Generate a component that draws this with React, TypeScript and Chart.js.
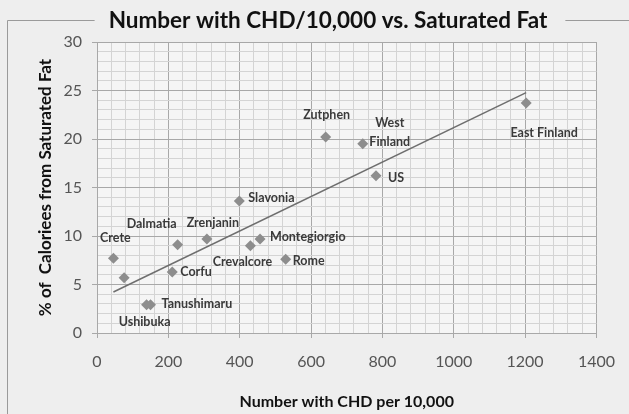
import React, { useEffect, useRef } from "react";
import { Chart, registerables } from "chart.js";

Chart.register(...registerables);

// ---- data ----
const places = [
  "Crete", "", "Ushibuka", "Tanushimaru", "Corfu", "Dalmatia", "Zrenjanin",
  "Slavonia", "Crevalcore", "Montegiorgio", "Rome", "Zutphen", "West Finland",
  "US", "East Finland",
];
const chdPer10000 = [46, 76, 139, 150, 211, 226, 308, 399, 430, 457, 529, 641, 745, 782, 1203];
const satFatPct = [7.7, 5.7, 2.9, 2.9, 6.3, 9.1, 9.7, 13.6, 9.0, 9.7, 7.6, 20.2, 19.5, 16.2, 23.7];
const xTickLabels = [0, 200, 400, 600, 800, 1000, 1200, 1400];
const yTickLabels = [0, 5, 10, 15, 20, 25, 30];

const chartTitle = "Number with CHD/10,000 vs. Saturated Fat";
const xTitle = "Number with CHD per 10,000";
const yTitle = "% of  Caloriees from Saturated Fat";

// label placement (style only)
const labelStyle: Record<string, { dx: number; dy: number; align: CanvasTextAlign; lines?: string[]; lh?: number }> = {
  Crete: { dx: 2, dy: -20, align: "center" },
  Ushibuka: { dx: -2, dy: 17, align: "center" },
  Tanushimaru: { dx: 11, dy: -1, align: "left" },
  Corfu: { dx: 8, dy: 0, align: "left" },
  Dalmatia: { dx: -26, dy: -21, align: "center" },
  Zrenjanin: { dx: 6, dy: -16, align: "center" },
  Slavonia: { dx: 9, dy: -3, align: "left" },
  Crevalcore: { dx: -8, dy: 16, align: "center" },
  Montegiorgio: { dx: 10, dy: -2, align: "left" },
  Rome: { dx: 7, dy: 2, align: "left" },
  Zutphen: { dx: 1, dy: -22, align: "center" },
  "West Finland": { dx: 27, dy: -21, align: "center", lines: ["West", "Finland"], lh: 19 },
  US: { dx: 12, dy: 2, align: "left" },
  "East Finland": { dx: 18, dy: 30, align: "center" },
};

// least-squares trendline from the data
function trend() {
  const n = chdPer10000.length;
  const mx = chdPer10000.reduce((a, b) => a + b, 0) / n;
  const my = satFatPct.reduce((a, b) => a + b, 0) / n;
  let sxy = 0, sxx = 0;
  for (let i = 0; i < n; i++) {
    sxy += (chdPer10000[i] - mx) * (satFatPct[i] - my);
    sxx += (chdPer10000[i] - mx) ** 2;
  }
  const b = sxy / sxx;
  const a = my - b * mx;
  const x0 = Math.min(...chdPer10000);
  const x1 = Math.max(...chdPer10000);
  return [{ x: x0, y: a + b * x0 }, { x: x1, y: a + b * x1 }];
}

const MAJOR = "#a8a8a8";
const MINOR = "#d4d4d4";

const decor = {
  id: "decor",
  beforeDraw(chart: any) {
    const { ctx, chartArea: ca, width, height } = chart;
    ctx.save();
    ctx.fillStyle = "#eeeeee";
    ctx.fillRect(0, 0, width, height);
    ctx.fillStyle = "#f5f5f5";
    ctx.fillRect(ca.left, ca.top, ca.right - ca.left, ca.bottom - ca.top);
    // title
    ctx.font = "bold 22.5px Lato";
    ctx.fillStyle = "#111";
    ctx.textAlign = "center";
    ctx.textBaseline = "alphabetic";
    const cx = 328;
    ctx.fillText(chartTitle, cx, 28);
    const tw = ctx.measureText(chartTitle).width;
    // frame
    ctx.strokeStyle = "#9a9a9a";
    ctx.lineWidth = 1;
    ctx.beginPath();
    ctx.moveTo(7.5, height);
    ctx.lineTo(7.5, 20.5);
    ctx.lineTo(cx - tw / 2 - 14, 20.5);
    ctx.moveTo(cx + tw / 2 + 18, 20.5);
    ctx.lineTo(width, 20.5);
    ctx.stroke();
    ctx.restore();
  },
  afterDatasetsDraw(chart: any) {
    const { ctx } = chart;
    const meta = chart.getDatasetMeta(0);
    ctx.save();
    ctx.font = "bold 12.5px Lato";
    ctx.fillStyle = "#3a3a3a";
    ctx.textBaseline = "middle";
    meta.data.forEach((pt: any, i: number) => {
      const name = places[i];
      if (!name) return;
      const st = labelStyle[name] || { dx: 8, dy: 0, align: "left" as CanvasTextAlign };
      ctx.textAlign = st.align;
      const lines = st.lines || [name];
      lines.forEach((ln, j) => {
        ctx.fillText(ln, pt.x + st.dx, pt.y + st.dy + j * (st.lh || 14));
      });
    });
    ctx.restore();
  },
};

export default function App() {
  const ref = useRef<HTMLCanvasElement | null>(null);
  useEffect(() => {
    if (!ref.current) return;
    Chart.defaults.font.family = "Lato";
    const chart = new Chart(ref.current, {
      type: "scatter",
      data: {
        datasets: [
          {
            label: "Countries",
            data: chdPer10000.map((x, i) => ({ x, y: satFatPct[i] })),
            pointStyle: "rectRot",
            pointRadius: 5.5,
            backgroundColor: "#8d8d8d",
            borderColor: "#8d8d8d",
            borderWidth: 0,
          },
          {
            type: "line",
            label: "Trend",
            data: trend(),
            borderColor: "#6e6e6e",
            borderWidth: 1.5,
            pointRadius: 0,
            fill: false,
          } as any,
        ],
      },
      options: {
        responsive: false,
        animation: false,
        devicePixelRatio: 1,
        layout: { padding: { top: 42, right: 32, left: 0, bottom: 0 } },
        plugins: { legend: { display: false }, tooltip: { enabled: false }, title: { display: false } },
        scales: {
          x: {
            type: "linear",
            min: 0,
            max: 1400,
            afterFit: (s: any) => { s.height = 81; },
            ticks: {
              stepSize: 40,
              autoSkip: false,
              maxRotation: 0,
              padding: 14,
              color: "#555555",
              font: { size: 16 },
              callback: (v: any) => (xTickLabels.includes(Math.round(v)) && Math.abs(v - Math.round(v)) < 1e-6 ? String(Math.round(v)) : ""),
            },
            grid: {
              color: (c: any) => (c.tick && Math.round(c.tick.value) % 200 === 0 ? MAJOR : MINOR),
              tickColor: (c: any) => (c.tick && Math.round(c.tick.value) % 200 === 0 ? MAJOR : "rgba(0,0,0,0)"),
              tickLength: 5,
            },
            border: { color: MAJOR },
            title: { display: true, text: xTitle, color: "#111", font: { size: 16, weight: "bold" }, padding: { bottom: 3, top: 0 } },
          },
          y: {
            type: "linear",
            min: 0,
            max: 30,
            afterFit: (s: any) => { s.width = 97; },
            ticks: {
              stepSize: 1,
              autoSkip: false,
              padding: 10,
              color: "#555555",
              font: { size: 16 },
              callback: (v: any) => (yTickLabels.includes(Math.round(v)) && Math.abs(v - Math.round(v)) < 1e-6 ? String(Math.round(v)) : ""),
            },
            grid: {
              color: (c: any) => (c.tick && Math.round(c.tick.value) % 5 === 0 ? MAJOR : MINOR),
              tickColor: (c: any) => (c.tick && Math.round(c.tick.value) % 5 === 0 ? MAJOR : "rgba(0,0,0,0)"),
              tickLength: 5,
            },
            border: { color: MAJOR },
            title: { display: true, text: yTitle, color: "#111", font: { size: 17, weight: "bold" }, padding: { top: 35, bottom: 0 } },
          },
        },
      },
      plugins: [decor],
    });
    return () => chart.destroy();
  }, []);
  return (
    <div style={{ position: "absolute", left: 0, top: 0, width: 629, height: 414 }}>
      <canvas ref={ref} width={629} height={414} style={{ display: "block", width: 629, height: 414 }} />
    </div>
  );
}
